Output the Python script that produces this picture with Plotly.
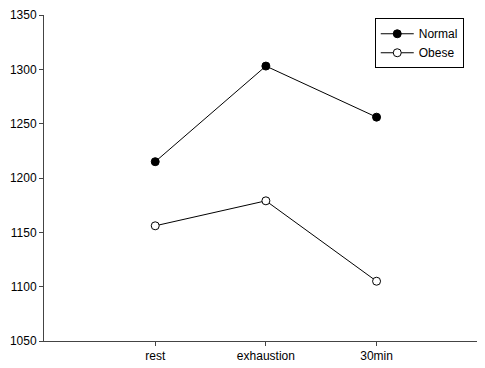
import plotly.graph_objects as go

categories = ["rest", "exhaustion", "30min"]
normal = [1215, 1303, 1256]
obese = [1156, 1179, 1105]
y_ticks = [1050, 1100, 1150, 1200, 1250, 1300, 1350]

fig = go.Figure()
fig.add_trace(go.Scatter(
    x=[0, 1, 2], y=normal, name="Normal", mode="lines+markers",
    line=dict(color="black", width=1),
    marker=dict(symbol="circle", size=8, color="black", line=dict(color="black", width=1)),
))
fig.add_trace(go.Scatter(
    x=[0, 1, 2], y=obese, name="Obese", mode="lines+markers",
    line=dict(color="black", width=1),
    marker=dict(symbol="circle", size=8, color="white", line=dict(color="black", width=1)),
))

# page body has an 8px margin, so the figure is shrunk and offset accordingly
fig.update_layout(
    width=477, height=360,
    margin=dict(l=36, r=0, t=7, b=27),
    plot_bgcolor="white", paper_bgcolor="white",
    font=dict(family="Arial, Liberation Sans, sans-serif", size=12, color="black"),
    showlegend=True,
    legend=dict(
        x=0.75, y=0.99, xanchor="left", yanchor="top",
        bordercolor="black", borderwidth=1, bgcolor="white",
        font=dict(size=12), itemwidth=33, entrywidth=55, tracegroupgap=0,
    ),
    xaxis=dict(
        range=[-1.005, 2.98], tickmode="array", tickvals=[0, 1, 2], ticktext=categories,
        showgrid=False, zeroline=False, showline=True, linecolor="#444", linewidth=1,
        ticks="outside", ticklen=4, tickcolor="#444", automargin=False,
    ),
    yaxis=dict(
        range=[1050, 1350], tickmode="array", tickvals=y_ticks,
        showgrid=False, zeroline=False, showline=True, linecolor="#444", linewidth=1,
        ticks="outside", ticklen=4, tickcolor="#444", automargin=False,
    ),
)

fig.write_html("out.html")
